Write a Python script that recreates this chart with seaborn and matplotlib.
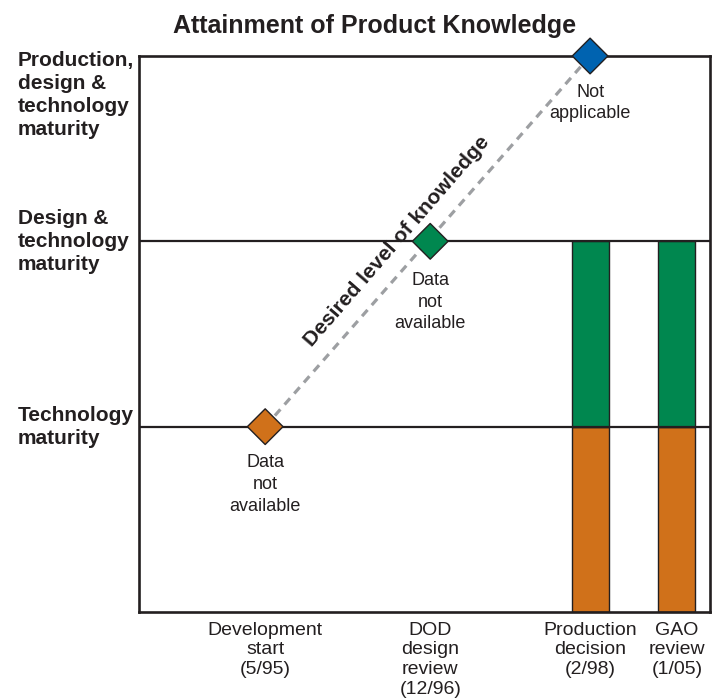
"""Attainment of Product Knowledge - recreation"""
import matplotlib
matplotlib.use("Agg")
import matplotlib.pyplot as plt
import seaborn as sns
import pandas as pd

# data
milestones = ["Development\nstart\n(5/95)", "DOD\ndesign\nreview\n(12/96)",
              "Production\ndecision\n(2/98)", "GAO\nreview\n(1/05)"]
milestone_x = [2.21, 5.10, 7.90, 9.42]
levels = ["Technology\nmaturity", "Design &\ntechnology\nmaturity",
          "Production,\ndesign &\ntechnology\nmaturity"]
level_y = [1, 2, 3]

# desired level of knowledge at the first three milestones
desired_x = milestone_x[:3]
desired_y = [1, 2, 3]
desired_notes = ["Data\nnot\navailable", "Data\nnot\navailable", "Not\napplicable"]
desired_colors = ["#d0711a", "#00874f", "#0063b0"]

# knowledge achieved (stacked) at production decision and GAO review
achieved_x = milestone_x[2:]
tech_height = [1, 1]
design_height = [1, 1]

dark = "#231f20"

sns.set_theme(style="white")
plt.rcParams["font.family"] = ["Liberation Sans", "DejaVu Sans"]

fig = plt.figure(figsize=(7.14, 7.0), dpi=100)
ax = fig.add_axes([139 / 714, 88 / 700, 571 / 714, 556 / 700])

# stacked bars
ax.bar(achieved_x, tech_height, width=0.65, color=desired_colors[0],
       edgecolor=dark, linewidth=1, zorder=2)
ax.bar(achieved_x, design_height, width=0.65, bottom=tech_height,
       color=desired_colors[1], edgecolor=dark, linewidth=1, zorder=2)

# level lines
for y in level_y[:2]:
    ax.axhline(y, color=dark, lw=1.6, zorder=3)

# desired knowledge path
df = pd.DataFrame({"x": desired_x, "y": desired_y, "m": milestones[:3]})
sns.lineplot(data=df.iloc[[0, 2]], x="x", y="y", ax=ax, color="#9d9fa2",
             lw=2.3, ls=(0, (2.6, 2.0)), sort=False, estimator=None, zorder=4)
sns.scatterplot(data=df, x="x", y="y", hue="m", palette=desired_colors,
                marker="D", s=330, edgecolor=dark, linewidth=1,
                legend=False, ax=ax, clip_on=False, zorder=6)

for x, y, note in zip(desired_x, desired_y, desired_notes):
    off = -22 if y == 2 else -20
    ax.annotate(note, (x, y), xytext=(0, off), textcoords="offset points",
                ha="center", va="top", fontsize=13, color=dark, linespacing=1.36)

ax.text(4.52, 2.0, "Desired level of knowledge", rotation=49, ha="center",
        va="center", fontsize=15.2, fontweight="bold", color=dark,
        rotation_mode="anchor")

# axes
ax.set_xlim(0, 10)
ax.set_ylim(0, 3)
ax.set_xlabel("")
ax.set_ylabel("")
ax.set_xticks(milestone_x)
ax.set_xticklabels(milestones, fontsize=14, color=dark, linespacing=1.2)
ax.tick_params(axis="x", length=0, pad=7)
ax.set_yticks([])
for s in ax.spines.values():
    s.set_color(dark)
    s.set_linewidth(1.9)
    s.set_visible(True)

# level labels on the left
ytr = ax.get_yaxis_transform()
lx = (18 - 139) / 571
lab = dict(transform=ytr, ha="left", va="center", fontsize=15,
           fontweight="bold", color=dark, linespacing=1.25)
ax.text(lx, 1.0, levels[0], **lab)
ax.text(lx, 2.0, levels[1], **lab)
ax.text(lx, 2.79, levels[2], **lab)

fig.text(375 / 714, 1 - 33 / 700, "Attainment of Product Knowledge",
         ha="center", va="baseline", fontsize=18, fontweight="bold", color=dark)

fig.savefig("out.png", dpi=100, facecolor="white")
